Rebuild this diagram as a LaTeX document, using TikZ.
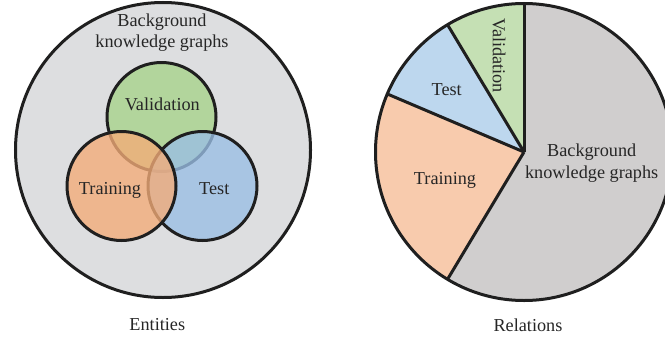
\documentclass[tikz,border=0pt]{standalone}
\usepackage{fontspec}
\setmainfont{Liberation Serif}
\definecolor{txtc}{HTML}{262626}
\definecolor{bgL}{RGB}{221,222,224}
\definecolor{vgC}{RGB}{167,211,137}
\definecolor{toC}{RGB}{244,172,120}
\definecolor{tbC}{RGB}{154,191,229}
\definecolor{pbg}{HTML}{D0CECE}
\definecolor{ptr}{HTML}{F8CBAD}
\definecolor{pte}{HTML}{BDD7EE}
\definecolor{pva}{HTML}{C5E0B4}
\begin{document}
\begin{tikzpicture}[x=1bp,y=1bp,line join=round,
  lbl/.style={font=\fontsize{18.3}{22}\selectfont,text=txtc,inner sep=0pt,anchor=base},
  ring/.style={draw=black!88,line width=3bp},
  venn/.style={fill opacity=0.78}]
\useasboundingbox (0,0) rectangle (665,341);
\clip (0,0) rectangle (665,341);
% ---------- left: entities ----------
\coordinate (ec) at (163,191);
\coordinate (vc) at (161.5,224);
\coordinate (tec) at (202.5,155);
\coordinate (trc) at (121.5,155);
\fill[bgL] (ec) circle (147.5bp);
\draw[ring] (ec) circle (147.5bp);
\fill[vgC,venn] (vc) circle (54.5bp);
\draw[ring] (vc) circle (54.5bp);
\fill[tbC,venn] (tec) circle (54.5bp);
\draw[ring] (tec) circle (54.5bp);
\fill[toC,venn] (trc) circle (54.5bp);
\draw[ring] (trc) circle (54.5bp);
\node[lbl] (bk1) at (162,315) {Background};
\node[lbl] (bk2) at (162,293.5) {knowledge graphs};
\node[lbl] (val) at (162.3,231) {Validation};
\node[lbl] (tra) at (110,146.7) {Training};
\node[lbl] (tes) at (214.3,146.7) {Test};
\node[lbl] (ent) at (157.3,11) {Entities};
% ---------- right: relations ----------
\coordinate (pc) at (524,189);
\fill[pbg] (pc) -- ++(239:148.5bp) arc[start angle=239,end angle=450,radius=148.5bp] -- cycle;
\fill[ptr] (pc) -- ++(157:148.5bp) arc[start angle=157,end angle=239,radius=148.5bp] -- cycle;
\fill[pte] (pc) -- ++(121:148.5bp) arc[start angle=121,end angle=157,radius=148.5bp] -- cycle;
\fill[pva] (pc) -- ++(90:148.5bp) arc[start angle=90,end angle=121,radius=148.5bp] -- cycle;
\draw[ring] (pc) -- ++(90:148.5bp);
\draw[ring] (pc) -- ++(121:148.5bp);
\draw[ring] (pc) -- ++(157:148.5bp);
\draw[ring] (pc) -- ++(239:148.5bp);
\draw[ring] (pc) circle (148.5bp);
\node[lbl,anchor=center,rotate=-90] (pval) at (499,285.5) {Validation};
\node[lbl] (ptes) at (446.7,246) {Test};
\node[lbl] (ptra) at (445,156.7) {Training};
\node[lbl] (pbk1) at (591.7,184.3) {Background};
\node[lbl] (pbk2) at (591.7,162.7) {knowledge graphs};
\node[lbl] (rel) at (528,10) {Relations};
\end{tikzpicture}
\end{document}
